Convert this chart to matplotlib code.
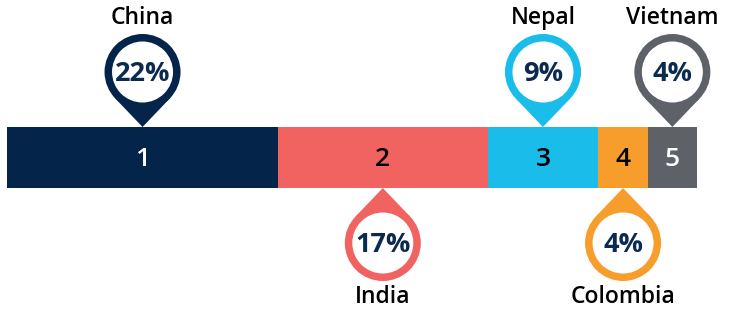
import numpy as np
import matplotlib
matplotlib.use("Agg")
import matplotlib.pyplot as plt
from matplotlib.patches import Circle, Polygon
from matplotlib.transforms import Affine2D, ScaledTranslation

# data
countries = ["China", "India", "Nepal", "Colombia", "Vietnam"]
ranks = ["1", "2", "3", "4", "5"]
shares = [22, 17, 9, 4, 4]
pin_side = ["top", "bottom", "top", "bottom", "top"]

colors = ["#04244a", "#f06361", "#1abcea", "#f69d2c", "#5e6268"]
rank_colors = ["white", "black", "black", "black", "white"]
navy = "#0b2a4f"

plt.rcParams["font.family"] = ["Open Sans", "DejaVu Sans"]

fig = plt.figure(figsize=(7.35, 3.16), dpi=100)
ax = fig.add_axes([0, 0, 1, 1])
ax.axis("off")

px_per_pct = 690 / 56.0
ax.set_xlim(-7 / px_per_pct, (735 - 7) / px_per_pct)
ax.set_ylim(316, 0)

bar_y = 157.5
bar_h = 61
lefts = np.concatenate([[0], np.cumsum(shares)[:-1]])
ax.barh(bar_y, shares, left=lefts, height=bar_h, color=colors, linewidth=0)

R = 38.0   # outer ring radius in px
r = 30.5   # inner white radius
D = 55.0   # tip to circle centre


def draw_pin(x, y_tip, side, color, label, country):
    s = 1 if side == "top" else -1
    tr = Affine2D() + ScaledTranslation(x, y_tip, ax.transData)
    a = np.arcsin(R / D)
    ang = np.pi / 2 * s  # direction from tip to centre
    cx, cy = 0.0, s * D
    t1 = ang + np.pi + (np.pi / 2 - a)
    t2 = ang + np.pi - (np.pi / 2 - a)
    p1 = (cx + R * np.cos(t1), cy + R * np.sin(t1))
    p2 = (cx + R * np.cos(t2), cy + R * np.sin(t2))
    ax.add_patch(Polygon([(0, 0), p1, p2], closed=True, color=color,
                         linewidth=0, transform=tr))
    ax.add_patch(Circle((cx, cy), R, color=color, linewidth=0, transform=tr))
    ax.add_patch(Circle((cx, cy), r, color="white", linewidth=0, transform=tr))
    ax.annotate(label, (x, y_tip), xytext=(0, s * D - 2), textcoords="offset pixels",
                ha="center", va="center", fontsize=19.5, fontweight="bold",
                color=navy)
    ax.annotate(country, (x, y_tip), xytext=(0, s * (D + R + 16)),
                textcoords="offset pixels", ha="center", va="center",
                fontsize=16.5, fontweight="semibold", color="black")


for i in range(len(shares)):
    xc = lefts[i] + shares[i] / 2
    ax.text(xc, bar_y + 2, ranks[i], ha="center", va="center", fontsize=19,
            fontweight="semibold", color=rank_colors[i])
    y_tip = bar_y - bar_h / 2 if pin_side[i] == "top" else bar_y + bar_h / 2
    draw_pin(xc, y_tip, pin_side[i], colors[i], f"{shares[i]}%", countries[i])

fig.savefig("out.png", dpi=100)
